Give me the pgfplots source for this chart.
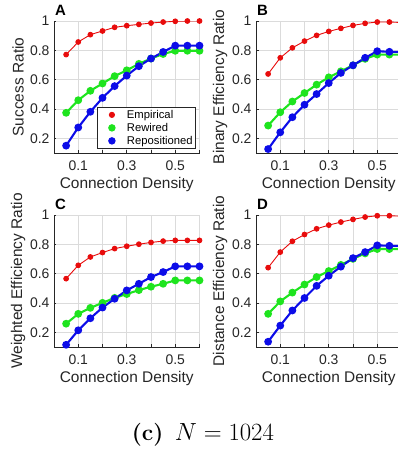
\documentclass[border=0pt]{standalone}
\usepackage{pgfplots}
\usepackage{pgfplotstable}
\usepackage{fontspec}
\pgfplotsset{compat=1.18}
\newfontfamily\arialfont{Liberation Sans}

\definecolor{axgray}{rgb}{0.15,0.15,0.15}
\definecolor{gridgray}{rgb}{0.86,0.86,0.86}
\definecolor{cRed}{RGB}{232,12,12}
\definecolor{cGreen}{RGB}{30,228,30}
\definecolor{cBlue}{RGB}{12,12,232}

\newcommand\ticksize{\arialfont\fontsize{14}{16}\selectfont}
\newcommand\labelsize{\arialfont\fontsize{15.5}{18}\selectfont}
\newcommand\legsize{\arialfont\fontsize{11.3}{13}\selectfont}
\newcommand\panelsize{\arialfont\bfseries\fontsize{15}{17}\selectfont}

% columns: density, empirical, rewired, repositioned
\pgfplotstableread{
x    emp   rew   rep
0.05 0.771 0.374 0.150
0.10 0.857 0.460 0.274
0.15 0.907 0.524 0.381
0.20 0.932 0.574 0.476
0.25 0.957 0.624 0.556
0.30 0.968 0.664 0.628
0.35 0.977 0.708 0.692
0.40 0.986 0.744 0.744
0.45 0.993 0.775 0.789
0.50 0.998 0.797 0.832
0.55 1.000 0.797 0.832
0.60 1.000 0.797 0.832
}\tabA
\pgfplotstableread{
x    emp   rew   rep
0.05 0.639 0.287 0.127
0.10 0.749 0.378 0.241
0.15 0.817 0.451 0.344
0.20 0.863 0.509 0.429
0.25 0.902 0.566 0.502
0.30 0.929 0.616 0.577
0.35 0.950 0.657 0.646
0.40 0.970 0.698 0.698
0.45 0.984 0.742 0.749
0.50 0.993 0.771 0.794
0.55 0.993 0.771 0.790
0.60 0.990 0.771 0.790
}\tabB
\pgfplotstableread{
x    emp   rew   rep
0.05 0.566 0.259 0.115
0.10 0.657 0.326 0.214
0.15 0.714 0.367 0.296
0.20 0.744 0.401 0.369
0.25 0.771 0.435 0.429
0.30 0.787 0.461 0.486
0.35 0.801 0.488 0.531
0.40 0.813 0.511 0.577
0.45 0.822 0.531 0.611
0.50 0.827 0.554 0.650
0.55 0.827 0.554 0.650
0.60 0.827 0.554 0.650
}\tabC
\pgfplotstableread{
x    emp   rew   rep
0.05 0.641 0.326 0.136
0.10 0.747 0.411 0.246
0.15 0.821 0.471 0.349
0.20 0.867 0.526 0.434
0.25 0.906 0.577 0.517
0.30 0.931 0.618 0.586
0.35 0.952 0.660 0.648
0.40 0.970 0.701 0.706
0.45 0.986 0.738 0.747
0.50 0.995 0.768 0.793
0.55 0.995 0.768 0.790
0.60 0.992 0.768 0.790
}\tabD

\pgfplotsset{
  panel/.style={
    scale only axis, width=145.5bp, height=132bp,
    xmin=0, xmax=0.6, ymin=0.1, ymax=1,
    axis lines*=left,
    axis line style={color=axgray, line width=0.8bp},
    xtick={0.1,0.2,0.3,0.4,0.5,0.6}, xticklabels={0.1,,0.3,,0.5,},
    ytick={0.2,0.4,0.6,0.8,1}, yticklabels={0.2,0.4,0.6,0.8,1},
    grid=major, grid style={color=gridgray, line width=0.7bp},
    tick align=inside, major tick length=2.5bp,
    tick style={color=axgray, line width=0.6bp},
    tick label style={font=\ticksize, text=axgray},
    xticklabel style={yshift=-4bp},
    yticklabel style={xshift=-1bp},
    label style={font=\labelsize, text=axgray},
    xlabel={Connection Density},
    xlabel style={at={(axis description cs:0.5,-0.242)}, anchor=center},
    ylabel style={at={(axis description cs:-0.247,0.5)}, anchor=center},
  },
  emp/.style={color=cRed, line width=0.9bp, mark=*, mark size=2.4bp},
  rew/.style={color=cGreen, line width=2.1bp, mark=*, mark size=2.8bp},
  rep/.style={color=cBlue, line width=2.1bp, mark=*, mark size=2.8bp},
}

\begin{document}
\begin{tikzpicture}
\useasboundingbox (0,0) rectangle (398bp,451bp);

% A
\begin{axis}[panel, name=pA, at={(54bp,298bp)}, anchor=south west,
  ylabel={Success Ratio},
  legend style={at={(rel axis cs:0.296,0.348)}, anchor=north west,
    draw=axgray, fill=white, font=\legsize, text=black,
    line width=0.6bp, inner sep=1bp, row sep=0bp, column sep=0bp,
    nodes={inner xsep=1.5bp, inner ysep=0bp, minimum height=13bp}},
  legend cell align=left,
  legend image code/.code={%
    \path (0bp,0bp) (25bp,0bp);
    \path plot[only marks, mark size=2.6bp] coordinates {(12.5bp,0bp)};},
]
\addplot[emp] table[x=x,y=emp] {\tabA};
\addplot[rew] table[x=x,y=rew] {\tabA};
\addplot[rep] table[x=x,y=rep] {\tabA};
\legend{Empirical,Rewired,Repositioned}
\end{axis}

% B
\begin{axis}[panel, name=pB, at={(256bp,298bp)}, anchor=south west,
  ylabel={Binary Efficiency Ratio}]
\addplot[emp] table[x=x,y=emp] {\tabB};
\addplot[rew] table[x=x,y=rew] {\tabB};
\addplot[rep] table[x=x,y=rep] {\tabB};
\end{axis}

% C
\begin{axis}[panel, name=pC, at={(54bp,104bp)}, anchor=south west,
  ylabel={Weighted Efficiency Ratio}]
\addplot[emp] table[x=x,y=emp] {\tabC};
\addplot[rew] table[x=x,y=rew] {\tabC};
\addplot[rep] table[x=x,y=rep] {\tabC};
\end{axis}

% D
\begin{axis}[panel, name=pD, at={(256bp,104bp)}, anchor=south west,
  ylabel={Distance Efficiency Ratio}]
\addplot[emp] table[x=x,y=emp] {\tabD};
\addplot[rew] table[x=x,y=rew] {\tabD};
\addplot[rep] table[x=x,y=rep] {\tabD};
\end{axis}

% panel letters
\foreach \p/\l in {pA/A,pB/B,pC/C,pD/D}
  \node[anchor=base west, inner sep=0, font=\panelsize] at ([xshift=1bp,yshift=6bp]\p.north west) {\l};

% caption
\node[anchor=base, inner sep=0, font=\fontsize{23}{27}\selectfont] at (203bp,11bp)
  {\textbf{(c)}\enspace$N = 1024$};
\end{tikzpicture}
\end{document}
